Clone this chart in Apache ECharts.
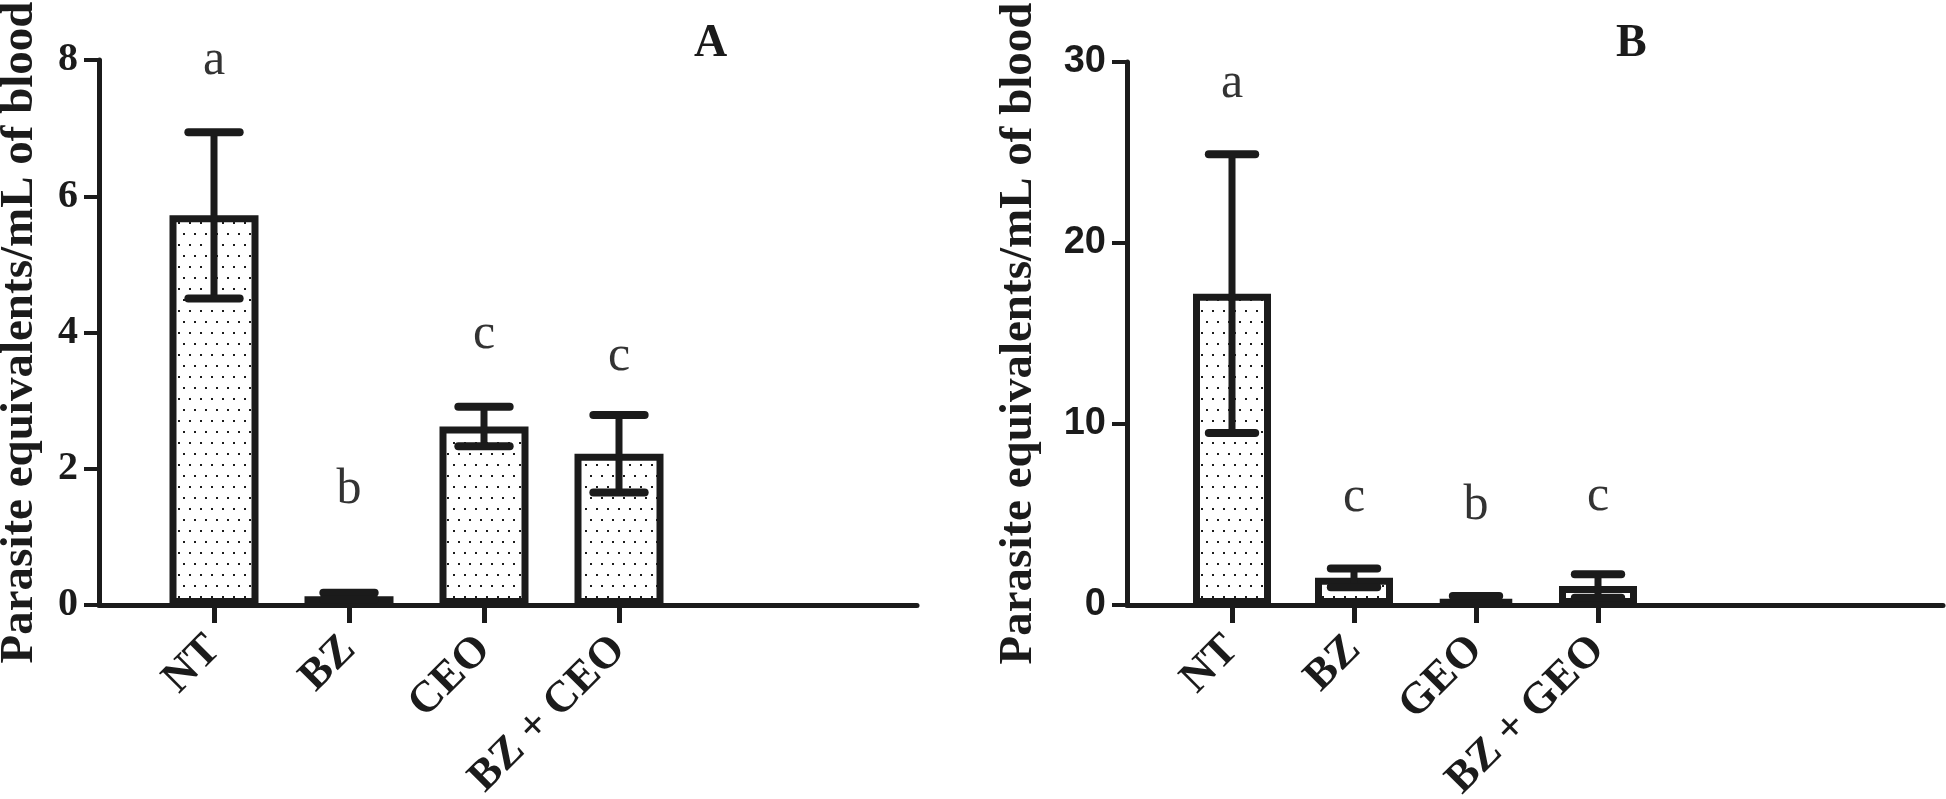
<!DOCTYPE html>
<html>
<head>
<meta charset="utf-8">
<script src="https://cdn.jsdelivr.net/npm/echarts@6/dist/echarts.min.js"></script>
<style>
html,body{margin:0;padding:0;background:#fff;}
#chart{width:1946px;height:799px;}
</style>
</head>
<body>
<div id="chart"></div>
<script>
// ---------- data ----------
const catsA = ['NT', 'BZ', 'CEO', 'BZ + CEO'];
const meanA = [5.72, 0.13, 2.62, 2.22];
const errA = [1.22, 0.05, 0.29, 0.57];
const lettersA = ['a', 'b', 'c', 'c'];
const letterPosA = [7.99, 1.69, 3.96, 3.64];
const yTicksA = [0, 2, 4, 6, 8];

const catsB = ['NT', 'BZ', 'GEO', 'BZ + GEO'];
const meanB = [17.2, 1.5, 0.3, 1.05];
const errB = [7.7, 0.52, 0.2, 0.65];
const lettersB = ['a', 'c', 'b', 'c'];
const letterPosB = [28.8, 5.9, 5.5, 6.0];
const yTicksB = [0, 10, 20, 30];

const yTitle = 'Parasite equivalents/mL of blood';
const panelTitles = ['A', 'B'];

// ---------- styles ----------
const INK = '#1b1b1b';
const SERIF = "'Liberation Serif', 'Times New Roman', serif";
const SANS = "'Liberation Sans Narrow', 'Liberation Sans', Arial, sans-serif";

function makePattern() {
  const c = document.createElement('canvas');
  c.width = 11; c.height = 22;
  const g = c.getContext('2d');
  g.fillStyle = '#ffffff';
  g.fillRect(0, 0, 11, 22);
  g.fillStyle = INK;
  g.fillRect(2, 2, 2, 2);
  g.fillRect(7, 13, 2, 2);
  return c;
}
const pattern = { image: makePattern(), repeat: 'repeat' };

function errRender(params, api) {
  const i = api.value(0), m = api.value(1), e = api.value(2);
  const top = api.coord([i, m + e]);
  const bot = api.coord([i, m - e]);
  const hw = api.size([1, 0])[0] * 0.19;
  const st = { stroke: INK, lineWidth: 7, lineCap: 'butt' };
  const cap = { stroke: INK, lineWidth: 8, lineCap: 'round' };
  return {
    type: 'group',
    children: [
      { type: 'line', shape: { x1: top[0], y1: top[1], x2: bot[0], y2: bot[1] }, style: st },
      { type: 'line', shape: { x1: top[0] - hw, y1: top[1], x2: top[0] + hw, y2: top[1] }, style: cap },
      { type: 'line', shape: { x1: bot[0] - hw, y1: bot[1], x2: bot[0] + hw, y2: bot[1] }, style: cap }
    ]
  };
}

function frameX(gi) {
  return {
    type: 'value', gridIndex: gi, min: 0, max: 1,
    axisLine: { show: true, lineStyle: { color: INK, width: 5 } },
    axisTick: { show: false }, axisLabel: { show: false }, splitLine: { show: false }
  };
}
function catX(gi, cats) {
  return {
    type: 'category', gridIndex: gi, data: cats,
    axisLine: { show: false },
    axisTick: { show: true, alignWithLabel: true, length: 18, lineStyle: { color: INK, width: 5 } },
    axisLabel: { rotate: 45, margin: 38, color: INK, fontFamily: SERIF, fontWeight: 'bold', fontSize: 44 },
    splitLine: { show: false }
  };
}
function frameY(gi, ticks, font, fontSize, nameGap) {
  return {
    type: 'value', gridIndex: gi,
    min: ticks[0], max: ticks[ticks.length - 1], interval: ticks[1] - ticks[0],
    axisLine: { show: true, lineStyle: { color: INK, width: 5 } },
    axisTick: { show: true, length: 15, lineStyle: { color: INK, width: 4 } },
    axisLabel: { margin: 21, color: INK, fontFamily: font, fontWeight: 'bold', fontSize: fontSize },
    splitLine: { show: false },
    name: yTitle, nameLocation: 'middle', nameGap: nameGap,
    nameTextStyle: { color: INK, fontFamily: SERIF, fontWeight: 'bold', fontSize: 47 }
  };
}
function hiddenY(gi, ticks) {
  return { type: 'value', gridIndex: gi, show: false,
    min: ticks[0], max: ticks[ticks.length - 1], interval: ticks[1] - ticks[0] };
}
function panelSeries(xi, means, errs, letters, letterPos, barWidth) {
  return [
    {
      type: 'bar', xAxisIndex: xi, yAxisIndex: xi, data: means, barWidth: barWidth,
      itemStyle: { color: pattern, borderColor: INK, borderWidth: 7 }, z: 2, silent: true
    },
    {
      type: 'custom', xAxisIndex: xi, yAxisIndex: xi, renderItem: errRender,
      data: means.map((m, i) => [i, m, errs[i]]), encode: { x: 0, y: 1 }, z: 3, silent: true
    },
    {
      type: 'scatter', xAxisIndex: xi, yAxisIndex: xi, symbolSize: 2,
      itemStyle: { color: 'rgba(0,0,0,0)' },
      data: letterPos.map((y, i) => [i, y]),
      label: {
        show: true, position: 'inside', formatter: p => letters[p.dataIndex],
        color: '#000', fontFamily: SERIF, fontSize: 50
      }, z: 4, silent: true
    }
  ];
}

const G = { outerBoundsMode: 'none', containLabel: false };
const chart = echarts.init(document.getElementById('chart'), null, { renderer: 'canvas' });
chart.setOption({
  animation: false,
  backgroundColor: '#ffffff',
  title: [
    { text: panelTitles[0], left: 689, top: 16, textStyle: { color: INK, fontFamily: SERIF, fontWeight: 'bold', fontSize: 46 } },
    { text: panelTitles[1], left: 1611, top: 16, textStyle: { color: INK, fontFamily: SERIF, fontWeight: 'bold', fontSize: 46 } }
  ],
  grid: [
    Object.assign({ left: 99, top: 60, width: 818, height: 545 }, G),
    Object.assign({ left: 146.5, top: 60, width: 540, height: 545 }, G),
    Object.assign({ left: 1127, top: 62, width: 816, height: 543 }, G),
    Object.assign({ left: 1171, top: 62, width: 488, height: 543 }, G)
  ],
  xAxis: [frameX(0), catX(1, catsA), frameX(2), catX(3, catsB)],
  yAxis: [
    frameY(0, yTicksA, SERIF, 40, 56),
    hiddenY(1, yTicksA),
    frameY(2, yTicksB, SANS, 38, 85),
    hiddenY(3, yTicksB)
  ],
  series: [
    ...panelSeries(1, meanA, errA, lettersA, letterPosA, 89),
    ...panelSeries(3, meanB, errB, lettersB, letterPosB, 78)
  ]
});
</script>
</body>
</html>
